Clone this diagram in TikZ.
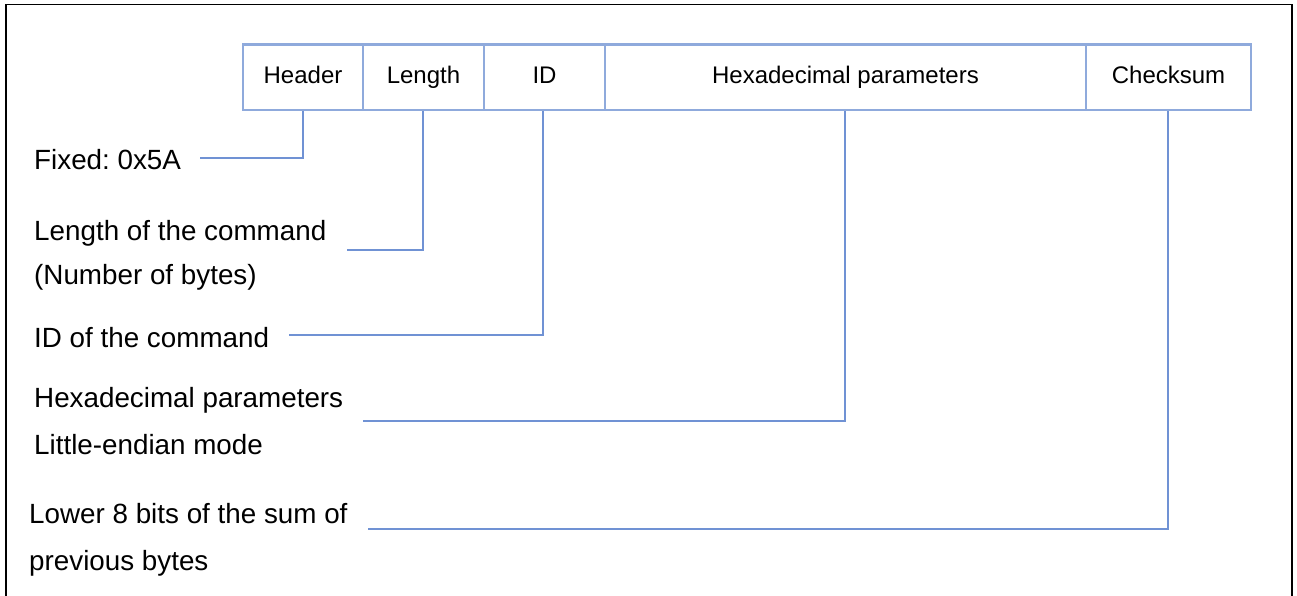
\documentclass[tikz,border=0pt]{standalone}
\usepackage{fontspec}
\setmainfont{Liberation Sans}
\definecolor{boxblue}{RGB}{143,170,220}
\definecolor{linkblue}{RGB}{112,146,212}
\begin{document}
\frenchspacing
\begin{tikzpicture}[x=1pt,y=-1pt,
  field/.style={draw=boxblue,line width=2.4pt,rectangle,inner sep=0pt,minimum height=65.5pt,
     font=\fontsize{24}{29}\selectfont,text height=17pt,text depth=5pt},
  lbl/.style={anchor=base west,inner sep=0pt,font=\fontsize{27.8}{33}\selectfont},
  link/.style={draw=linkblue,line width=1.3pt}]
\useasboundingbox (0,0) rectangle (1297,595);
\draw[line width=1.8pt,black] (6,4.5) rectangle (1292,610);
% fields
\node[field,minimum width=120pt] (hdr) at (303,77.25) {Header};
\node[field,minimum width=121pt] (len) at (423.5,77.25) {Length};
\node[field,minimum width=121pt] (id) at (544.5,77.25) {ID};
\node[field,minimum width=481pt] (hex) at (845.5,77.25) {Hexadecimal parameters};
\node[field,minimum width=165pt] (chk) at (1168.5,77.25) {Checksum};
% labels
\node[lbl] (l1) at (34,169) {Fixed: 0x5A};
\node[lbl] (l2a) at (34,240) {Length of the command};
\node[lbl] (l2b) at (34,284) {(Number of bytes)};
\node[lbl] (l3) at (34,347) {ID of the command};
\node[lbl] (l4a) at (34,407) {Hexadecimal parameters};
\node[lbl] (l4b) at (34,454) {Little-endian mode};
\node[lbl] (l5a) at (29,523) {Lower 8 bits of the sum of};
\node[lbl] (l5b) at (29,570) {previous bytes};
% connector ends
\coordinate (e1) at (200,158);
\coordinate (e2) at (347,250);
\coordinate (e3) at (289,335);
\coordinate (e4) at (363,421);
\coordinate (e5) at (368,529);
\draw[link] (e1) -| (hdr.south);
\draw[link] (e2) -| ([xshift=-0.5pt]len.south);
\draw[link] (e3) -| ([xshift=-1.5pt]id.south);
\draw[link] (e4) -| ([xshift=-0.5pt]hex.south);
\draw[link] (e5) -| ([xshift=-0.5pt]chk.south);
\end{tikzpicture}
\end{document}
